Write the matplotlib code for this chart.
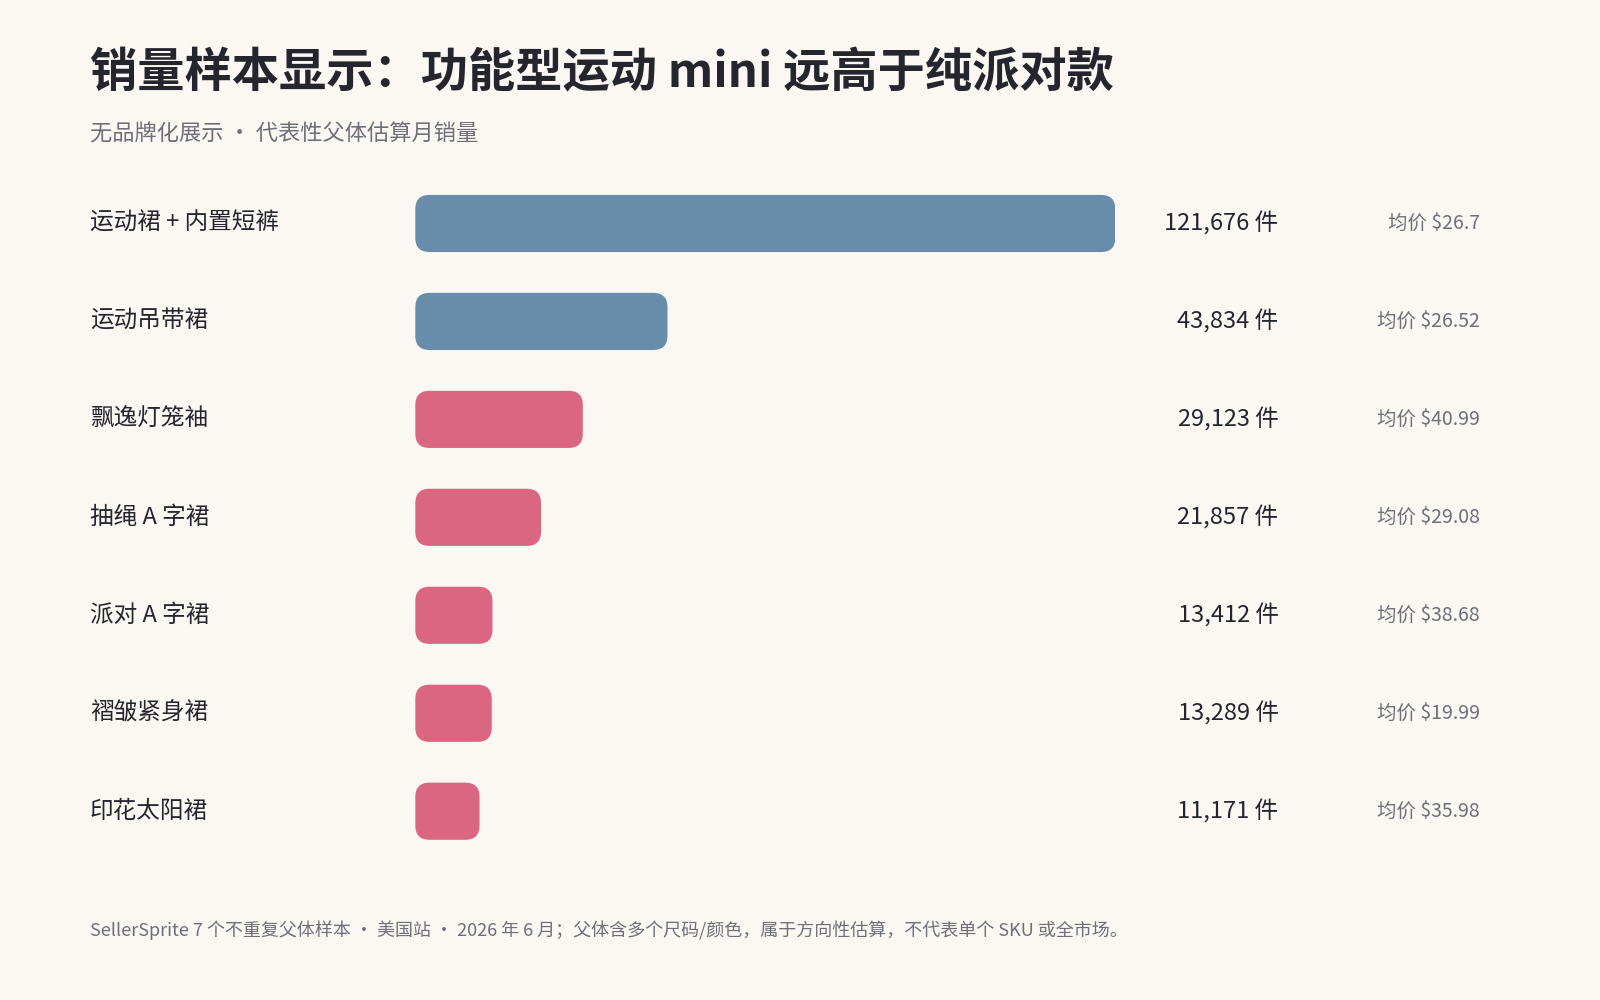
import matplotlib
matplotlib.use("Agg")
import matplotlib.pyplot as plt
from matplotlib.patches import FancyBboxPatch

plt.rcParams['font.family'] = ['Noto Sans CJK SC', 'DejaVu Sans']

categories = ["运动裙 + 内置短裤", "运动吊带裙", "飘逸灯笼袖", "抽绳 A 字裙", "派对 A 字裙", "褶皱紧身裙", "印花太阳裙"]
sales = [121676, 43834, 29123, 21857, 13412, 13289, 11171]
prices = ["26.7", "26.52", "40.99", "29.08", "38.68", "19.99", "35.98"]
groups = ["sport", "sport", "party", "party", "party", "party", "party"]
colors = {"sport": "#678DAA", "party": "#DB6682"}

W, H = 1568, 980
bg = "#FBF8F3"
fig = plt.figure(figsize=(16, 10), dpi=100, facecolor=bg)

x0, x1 = 407, 1093
ytop, ybot = 171, 843
ax = fig.add_axes([x0 / W, 1 - ybot / H, (x1 - x0) / W, (ybot - ytop) / H])
ax.set_facecolor(bg)
ax.set_xlim(0, max(sales))
ax.set_ylim(len(categories) - 0.5, -0.5)
ax.axis("off")

ax_wpx = (x1 - x0) / W * 1600
ax_hpx = (ybot - ytop) / H * 1000
xpp = max(sales) / ax_wpx
ypp = len(categories) / ax_hpx
bh = 56 / 96
r = 14 * 1600 / W
for i, (v, g) in enumerate(zip(sales, groups)):
    p = FancyBboxPatch((0, i - bh / 2), v, bh,
                       boxstyle=f"round,pad=0,rounding_size={r * xpp}",
                       mutation_aspect=ypp / xpp, fc=colors[g], ec="none")
    ax.add_patch(p)
    yc = 1 - (219 + 96 * i) / H
    fig.text(88 / W, yc, categories[i], fontsize=17, color="#25252d", va="center", ha="left")
    fig.text(1253 / W, yc, f"{v:,} 件", fontsize=17, color="#25252d", va="center", ha="right")
    fig.text(1450 / W, yc, f"均价 ${prices[i]}", fontsize=14, color="#6f6f78", va="center", ha="right")

fig.text(88 / W, 1 - 72 / H, "销量样本显示：功能型运动 mini 远高于纯派对款", fontsize=34,
         fontweight="bold", color="#25252d", va="center", ha="left")
fig.text(88 / W, 1 - 131 / H, "无品牌化展示 · 代表性父体估算月销量", fontsize=16,
         color="#6f6f78", va="center", ha="left")
fig.text(88 / W, 1 - 912 / H,
         "SellerSprite 7 个不重复父体样本 · 美国站 · 2026 年 6 月；父体含多个尺码/颜色，属于方向性估算，不代表单个 SKU 或全市场。",
         fontsize=13, color="#6f6f78", va="center", ha="left")

fig.savefig("out.png", dpi=100, facecolor=bg)
